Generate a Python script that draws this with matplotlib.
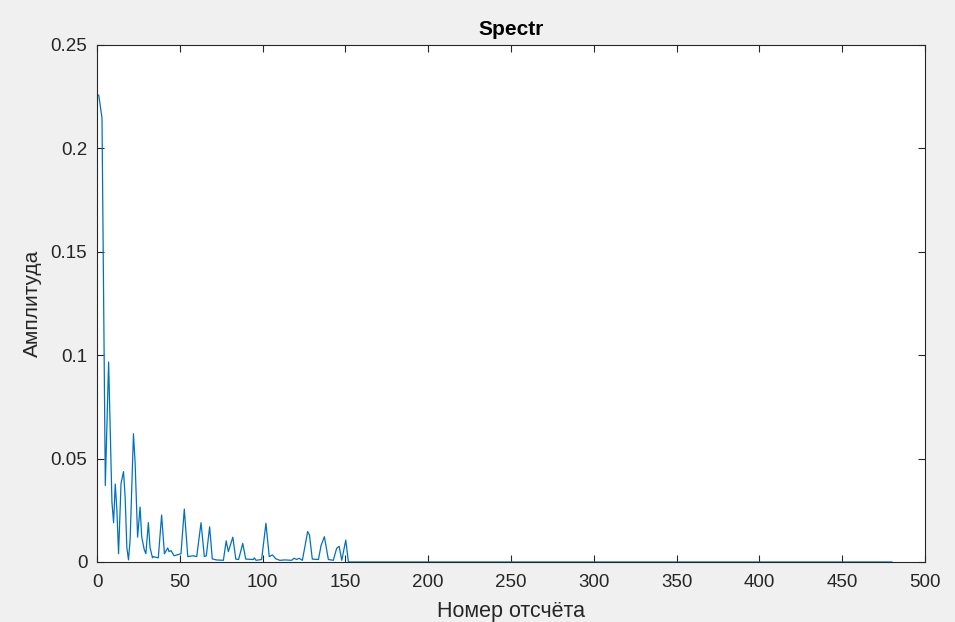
import matplotlib.pyplot as plt

plt.rcParams['font.family'] = ['Liberation Sans', 'DejaVu Sans']

# sample index / amplitude
idx = [1, 3, 5, 7, 9, 10, 11, 12, 13, 14.5, 16, 17, 18, 19, 20, 22, 23, 24.5, 26, 27,
       28.5, 29.5, 31, 32, 33.5, 34, 37, 39, 40.7, 42.7, 43.5, 44.7, 46.5, 50.7, 52.7,
       54.8, 58, 60.2, 62.8, 64.8, 66, 68, 69.6, 72, 76.3, 78, 79.3, 82, 83.8, 85.5,
       88, 89.8, 94.4, 95, 96, 99.4, 102, 104, 105.9, 108, 110.4, 113.5, 117.5, 119,
       120.5, 122, 124, 127.2, 128.3, 130, 133.7, 135.3, 137.3, 139.7, 142.7, 144.7,
       146.2, 147.8, 150.2, 151.8, 480]
amp = [0.2258, 0.2147, 0.037, 0.0967, 0.029, 0.019, 0.0377, 0.025, 0.004, 0.038,
       0.0437, 0.031, 0.007, 0.001, 0.011, 0.062, 0.048, 0.012, 0.0266, 0.012,
       0.006, 0.004, 0.019, 0.007, 0.002, 0.0026, 0.002, 0.0227, 0.004, 0.0068,
       0.005, 0.0055, 0.003, 0.004, 0.0256, 0.0026, 0.003, 0.0026, 0.019, 0.0026,
       0.003, 0.017, 0.0015, 0.001, 0.0008, 0.0102, 0.005, 0.012, 0.0014, 0.0012,
       0.009, 0.0014, 0.0012, 0.002, 0.0008, 0.0012, 0.0187, 0.0026, 0.0034, 0.0015,
       0.0008, 0.001, 0.0008, 0.0018, 0.0012, 0.0018, 0.0008, 0.0147, 0.013, 0.0014,
       0.0012, 0.008, 0.0122, 0.0012, 0.0008, 0.0066, 0.0076, 0.0008, 0.0106, 0.0, 0.0]

xticks = [0, 50, 100, 150, 200, 250, 300, 350, 400, 450, 500]
yticks = [0, 0.05, 0.1, 0.15, 0.2, 0.25]
ytick_labels = ['0', '0.05', '0.1', '0.15', '0.2', '0.25']

fig = plt.figure(figsize=(9.55, 6.22), dpi=100, facecolor='#f0f0f0')
ax = fig.add_axes([0.1016, 0.0965, 0.867, 0.8312])
ax.plot(idx, amp, color='#0072BD', linewidth=0.9)

ax.set_xlim(0, 500)
ax.set_ylim(0, 0.25)
ax.set_xticks(xticks)
ax.set_yticks(yticks)
ax.set_yticklabels(ytick_labels)

ax.tick_params(direction='in', top=True, right=True, length=5, width=0.8,
               colors='#262626', labelsize=13.5)
ax.tick_params(axis='x', pad=9)
ax.tick_params(axis='y', pad=7)
for s in ax.spines.values():
    s.set_color('#262626')
    s.set_linewidth(0.8)

ax.set_title('Spectr', fontsize=15, fontweight='bold', color='black', pad=7)
ax.set_xlabel('Номер отсчёта', fontsize=15.5, color='#262626', labelpad=7)
ax.set_ylabel('Амплитуда', fontsize=15, color='#262626', labelpad=6)

fig.savefig('out.png', dpi=100, facecolor=fig.get_facecolor())
